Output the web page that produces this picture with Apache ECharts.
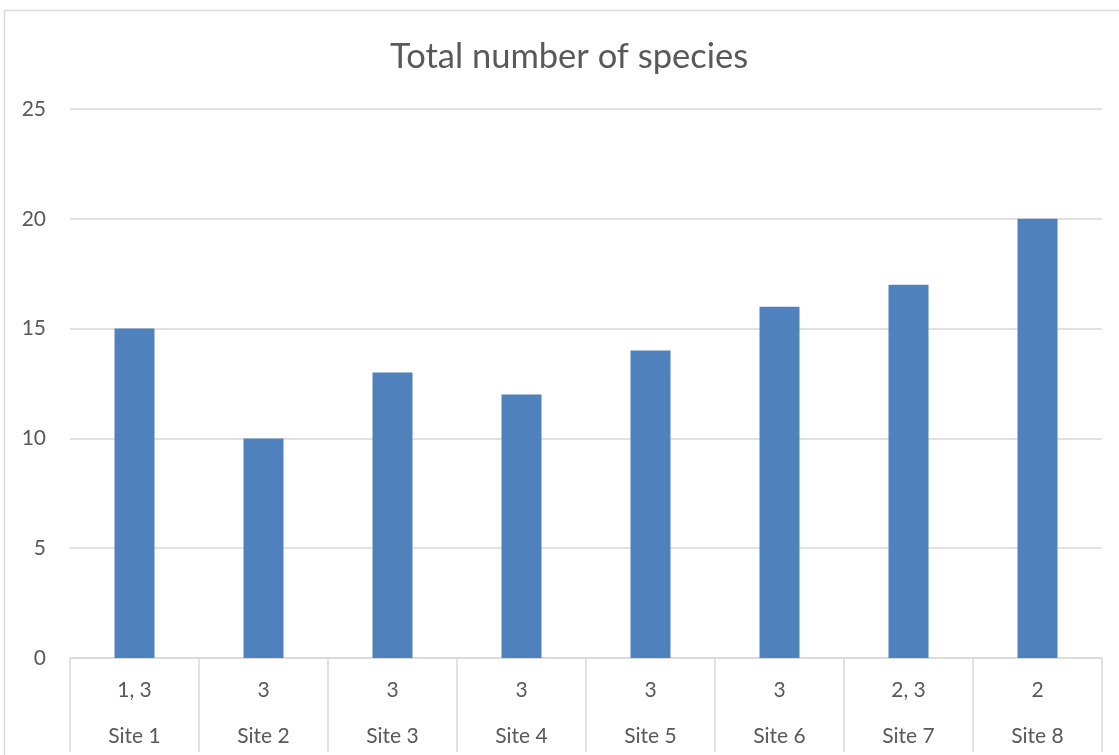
<!DOCTYPE html>
<html>
<head>
<meta charset="utf-8">
<script src="https://cdn.jsdelivr.net/npm/echarts@6/dist/echarts.min.js"></script>
<style>
  html, body { margin: 0; padding: 0; background: #fff; }
  #main { width: 1119px; height: 755px; }
</style>
</head>
<body>
<div id="main"></div>
<script>
// chart data
var sites = ["Site 1", "Site 2", "Site 3", "Site 4", "Site 5", "Site 6", "Site 7", "Site 8"];
var codes = ["1, 3", "3", "3", "3", "3", "3", "2, 3", "2"];
var species = [15, 10, 13, 12, 14, 16, 17, 20];

var chartDom = document.getElementById("main");
var myChart = echarts.init(chartDom);
var option;

var textColor = "#595959";
var lineColor = "#d9d9d9";

option = {
  backgroundColor: "#fff",
  animation: false,
  title: {
    text: "Total number of species",
    left: 385,
    top: 34,
    textStyle: {
      fontFamily: "Lato",
      fontWeight: "normal",
      fontSize: 34.5,
      color: textColor
    }
  },
  // outer chart border, cut off at right and bottom like the source
  graphic: [
    {
      type: "rect",
      shape: { x: 4.5, y: 10.5, width: 1200, height: 800 },
      style: { fill: "none", stroke: lineColor, lineWidth: 1.5 },
      silent: true
    }
  ],
  grid: {
    left: 70,
    right: 17,
    top: 109,
    bottom: 97
  },
  xAxis: {
    type: "category",
    data: sites,
    axisLine: { lineStyle: { color: lineColor, width: 1.5 } },
    axisTick: {
      show: true,
      alignWithLabel: false,
      length: 94,
      lineStyle: { color: lineColor, width: 1.5 }
    },
    axisLabel: {
      margin: 9,
      interval: 0,
      formatter: function (value, idx) {
        return "{c|" + codes[idx] + "}\n{s|" + value + "}";
      },
      rich: {
        c: { fontFamily: "Lato", fontSize: 21, color: textColor, lineHeight: 46 },
        s: { fontFamily: "Lato", fontSize: 21, color: textColor, lineHeight: 46 }
      }
    }
  },
  yAxis: {
    type: "value",
    min: 0,
    max: 25,
    interval: 5,
    axisLine: { show: false },
    axisTick: { show: false },
    splitLine: { lineStyle: { color: lineColor, width: 1.5 } },
    axisLabel: {
      margin: 24,
      fontFamily: "Lato",
      fontSize: 21,
      color: textColor
    }
  },
  series: [
    {
      type: "bar",
      data: species,
      barWidth: 40,
      itemStyle: { color: "#4f81bd" }
    }
  ]
};

option && myChart.setOption(option);
</script>
</body>
</html>
